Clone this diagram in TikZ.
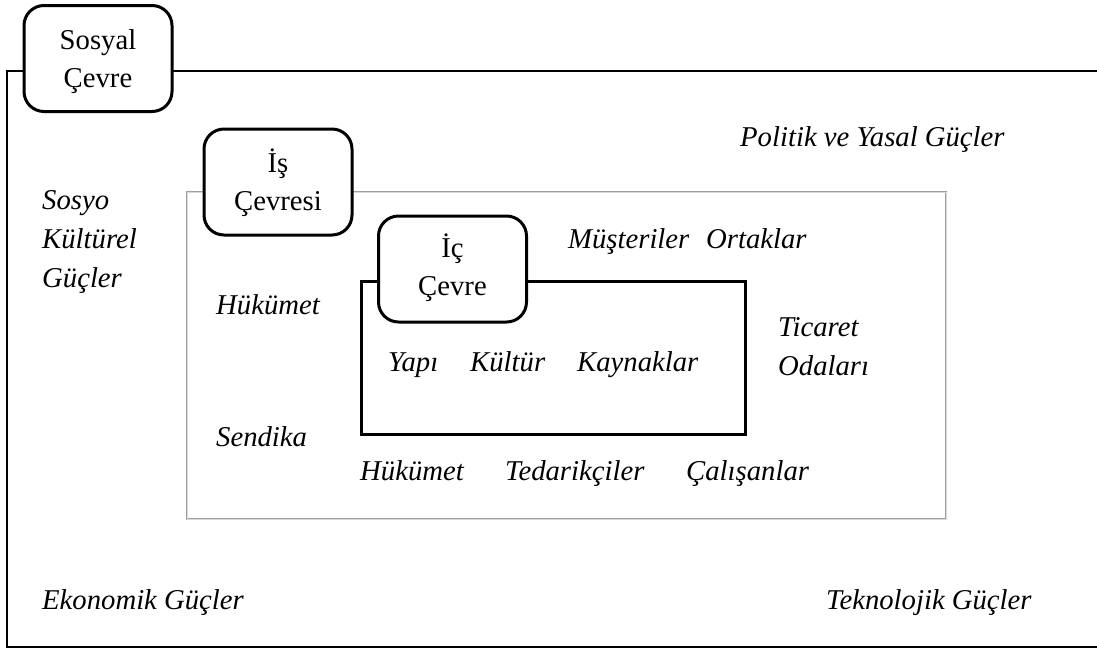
\documentclass[tikz,border=0pt]{standalone}
\usepackage{fontspec}
\setmainfont{Liberation Serif}
\begin{document}
\begin{tikzpicture}[x=1pt,y=-1pt,
  every node/.style={inner sep=0pt},
  lbl/.style={anchor=base west,font=\fontsize{28.7}{39}\selectfont\itshape,align=left},
  envbox/.style={draw,fill=white,line width=3pt,rounded corners=20pt,
    minimum width=148pt,minimum height=106pt},
  envtext/.style={anchor=base,align=center,font=\fontsize{28.7}{38}\selectfont},
  frameline/.style={line width=2pt},
  midframe/.style={draw=gray!75,double=gray!30,line width=0.8pt,double distance=0.8pt},
  innerframe/.style={line width=3pt}]
\useasboundingbox (0,0) rectangle (1097,649);

% outer frame (open to the right)
\coordinate (oTopL) at (7,71);
\coordinate (oBotL) at (7,647);
\coordinate (oBotR) at (1097,647);
\coordinate (oTopR) at (1097,71);
\draw[frameline] (oTopR) -- (oTopL) -- (oBotL) -- (oBotR);

% business environment frame
\draw[midframe] (187,192) rectangle (946,519);

% internal environment frame
\draw[innerframe] (361,281) rectangle (745,434);

% labelled corner boxes
\node[envbox] (sosyalbox) at (98,58.5) {};
\node[envtext] (sosyal) at (98,87) {Sosyal\\Çevre};
\node[envbox] (isbox) at (278,182) {};
\node[envtext] (is) at (278,210) {İş\\Çevresi};
\node[envbox] (icbox) at (452.5,269) {};
\node[envtext] (ic) at (452.5,295) {İç\\Çevre};

% general environment forces
\node[lbl] (politik) at (740,146) {Politik ve Yasal Güçler};
\node[lbl] (sosyo) at (42,287) {Sosyo\\Kültürel\\Güçler};
\node[lbl] (ekonomik) at (42,609) {Ekonomik Güçler};
\node[lbl] (teknolojik) at (826,609) {Teknolojik Güçler};

% business environment actors
\node[lbl] (musteri) at (568,248) {Müşteriler};
\node[lbl] (ortak) at (706,248) {Ortaklar};
\node[lbl] (hukumet1) at (216,314) {Hükümet};
\node[lbl] (ticaret) at (778,375) {Ticaret\\Odaları};
\node[lbl] (sendika) at (216,446) {Sendika};
\node[lbl] (hukumet2) at (360,480) {Hükümet};
\node[lbl] (tedarik) at (505,480) {Tedarikçiler};
\node[lbl] (calisan) at (686,480) {Çalışanlar};

% internal environment elements
\node[lbl] (yapi) at (388,371) {Yapı};
\node[lbl] (kultur) at (470,371) {Kültür};
\node[lbl] (kaynak) at (577,371) {Kaynaklar};
\end{tikzpicture}
\end{document}
